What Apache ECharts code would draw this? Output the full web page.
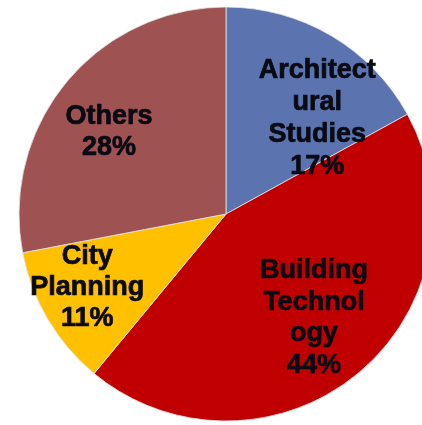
<!DOCTYPE html>
<html>
<head>
<meta charset="utf-8">
<script src="https://cdn.jsdelivr.net/npm/echarts@6/dist/echarts.min.js"></script>
<style>
html,body{margin:0;padding:0;background:#fff;}
#c{width:422px;height:425px;}
</style>
</head>
<body>
<div id="c"></div>
<script>
var categories = ['Architect\nural\nStudies', 'Building\nTechnol\nogy', 'City\nPlanning', 'Others'];
var values = [17, 44, 11, 28];
var colors = ['#5B73AE', '#C00000', '#FFC000', '#9E5252'];
var labelOffsets = [[37, -4], [20, 22], [-47, 19], [-35, -14]];
var labelLineHeights = [32, 31.5, 31, 31];

var chart = echarts.init(document.getElementById('c'), null, {renderer: 'canvas'});
chart.setOption({
  animation: false,
  backgroundColor: '#ffffff',
  series: [{
    type: 'pie',
    center: [226, 214],
    radius: 207,
    startAngle: 90,
    clockwise: true,
    avoidLabelOverlap: false,
    itemStyle: {borderColor: 'rgba(230,230,230,0.8)', borderWidth: 1},
    label: {
      show: true,
      position: 'inside',
      color: '#0a0a14',
      textBorderColor: '#0a0a14',
      textBorderWidth: 0.7,
      fontFamily: 'Liberation Sans, Arial, sans-serif',
      fontWeight: 'bold',
      fontSize: 27,
      lineHeight: 31,
      align: 'center',
      formatter: function (p) { return p.name + '\n' + p.value + '%'; }
    },
    labelLine: {show: false},
    emphasis: {disabled: true},
    data: categories.map(function (c, i) {
      return {
        name: c,
        value: values[i],
        itemStyle: {color: colors[i]},
        label: {offset: labelOffsets[i], lineHeight: labelLineHeights[i]}
      };
    })
  }]
});
</script>
</body>
</html>
